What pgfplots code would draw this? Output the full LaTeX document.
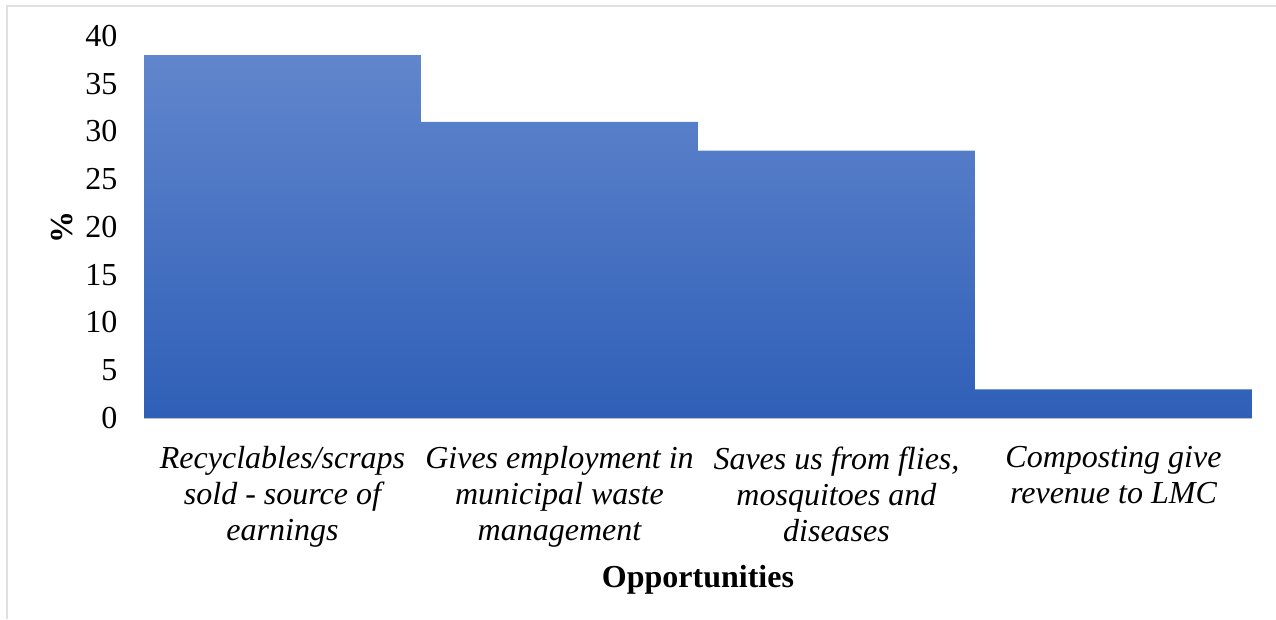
\documentclass[border=0pt]{standalone}
\usepackage{pgfplots}
\pgfplotsset{compat=1.18}
\usepackage{fontspec}
\setmainfont{Liberation Serif}
\definecolor{bartop}{HTML}{6186CD}
\definecolor{barmid}{HTML}{4673C8}
\definecolor{barbot}{HTML}{2F5FB7}
\begin{document}
\begin{tikzpicture}[x=1pt,y=1pt]
\path[use as bounding box] (0,0) rectangle (1276,619);
\draw[color=black!12, line width=1.5pt] (7,0) -- (7,613) -- (1276,613);
\begin{axis}[
  at={(144pt,201pt)}, anchor=south west,
  scale only axis, width=1108pt, height=382pt,
  xmin=0, xmax=4, ymin=0, ymax=40,
  ytick={0,5,...,40},
  xtick={0.5,1.5,2.5,3.5},
  xticklabels={{Recyclables/scraps\\sold - source of\\earnings},
               {Gives employment in\\municipal waste\\management},
               {Saves us from flies,\\mosquitoes and\\diseases},
               {Composting give\\revenue to LMC}},
  /pgf/number format/assume math mode=true,
  tick style={draw=none},
  axis lines*=left,
  y axis line style={draw=none},
  x axis line style={-, draw=black!18, line width=1.2pt},
  yticklabel style={font=\fontsize{32}{36}\selectfont, xshift=-23pt},
  xticklabel style={font=\fontsize{32}{36}\selectfont\itshape, align=center, yshift=-25pt},
  xlabel={\textbf{Opportunities}},
  xlabel style={font=\fontsize{32}{36}\selectfont, yshift=-11pt},
  clip=false,
]
\addplot[ybar, bar width=1, draw=none, shading=axis, top color=bartop, middle color=barmid, bottom color=barbot]
  coordinates {(0.5,38) (1.5,31) (2.5,28) (3.5,3)};
\end{axis}
\node[rotate=90, font=\fontsize{32}{36}\selectfont\bfseries] at (62,391) {\%};
\end{tikzpicture}
\end{document}
